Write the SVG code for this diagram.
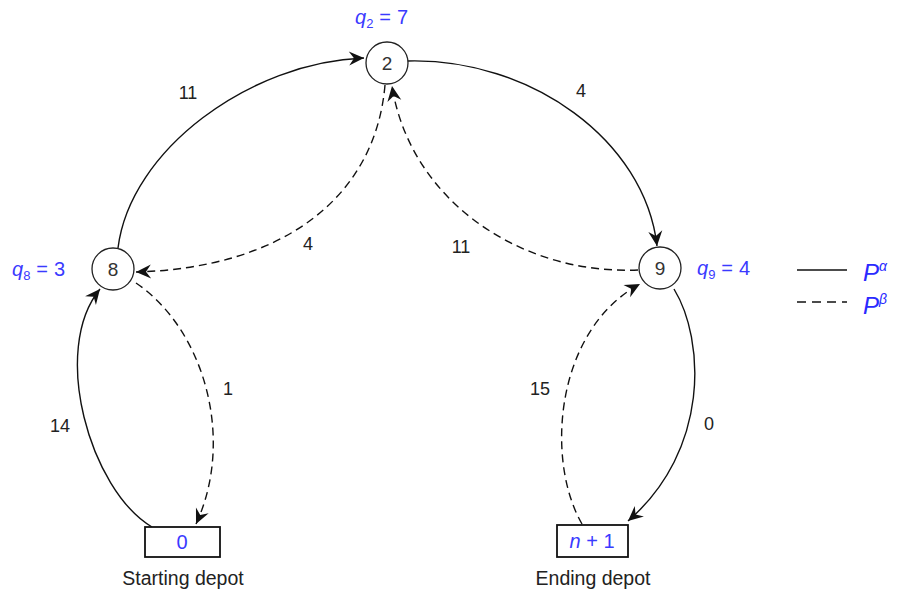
<svg xmlns="http://www.w3.org/2000/svg" width="900" height="596" viewBox="0 0 900 596">
<style>
.node{fill:#fff;stroke:#222;stroke-width:1.3}
.box{fill:#fff;stroke:#111;stroke-width:1.8}
.solid{fill:none;stroke:#111;stroke-width:1.4}
.dash{fill:none;stroke:#111;stroke-width:1.4;stroke-dasharray:8,5}
.nl{font-family:"Liberation Sans",Arial,sans-serif;font-size:19px;fill:#333;text-anchor:middle}
.el{font-family:"Liberation Sans",Arial,sans-serif;font-size:18px;fill:#222;text-anchor:middle}
.q{font-family:"Liberation Sans",Arial,sans-serif;font-size:20px;fill:#3a3aff}
.cap{font-family:"Liberation Sans",Arial,sans-serif;font-size:19.5px;fill:#222;text-anchor:middle}
.leg{font-family:"Liberation Sans",Arial,sans-serif;font-size:24px;fill:#2a2aff;font-style:italic}
</style>
<defs>
<marker id="arr" viewBox="-17 -8 18 16" refX="0" refY="0" markerWidth="18" markerHeight="16" markerUnits="userSpaceOnUse" orient="auto">
<path d="M0,0 L-15,-7 L-10,0 L-15,7 Z" fill="#111"/>
</marker>
</defs>
<g id="connectors">
<path class="solid" d="M118,248 C130,150 250,62 364,58" marker-end="url(#arr)"/>
<path class="dash" d="M385,85 C375,200 280,268 136,272" marker-end="url(#arr)"/>
<path class="solid" d="M408,61 C530,58 645,140 657,246" marker-end="url(#arr)"/>
<path class="dash" d="M638,270 C520,275 410,200 392,86" marker-end="url(#arr)"/>
<path class="solid" d="M152,527 C90,490 50,350 100,289" marker-end="url(#arr)"/>
<path class="dash" d="M136,283 C205,330 235,440 196,524" marker-end="url(#arr)"/>
<path class="dash" d="M582,524 C545,460 555,330 640,284" marker-end="url(#arr)"/>
<path class="solid" d="M674,289 C705,340 710,450 628,521" marker-end="url(#arr)"/>
<text class="el" x="188" y="99">11</text>
<text class="el" x="308" y="250">4</text>
<text class="el" x="581" y="97">4</text>
<text class="el" x="461" y="253">11</text>
<text class="el" x="60" y="432">14</text>
<text class="el" x="228" y="395">1</text>
<text class="el" x="540" y="395">15</text>
<text class="el" x="709" y="430">0</text>
</g>
<g id="node2">
<circle class="node" cx="387" cy="63" r="21"/>
<text class="nl" x="387" y="70">2</text>
<text class="q" x="355" y="24"><tspan font-style="italic">q</tspan><tspan font-size="13" dy="4">2</tspan><tspan dy="-4" dx="6">=</tspan><tspan dx="6">7</tspan></text>
</g>
<g id="node8">
<circle class="node" cx="113" cy="269" r="21"/>
<text class="nl" x="113" y="276">8</text>
<text class="q" x="12" y="276"><tspan font-style="italic">q</tspan><tspan font-size="13" dy="4">8</tspan><tspan dy="-4" dx="6">=</tspan><tspan dx="6">3</tspan></text>
</g>
<g id="node9">
<circle class="node" cx="660" cy="268" r="21"/>
<text class="nl" x="660" y="275">9</text>
<text class="q" x="697" y="275"><tspan font-style="italic">q</tspan><tspan font-size="13" dy="4">9</tspan><tspan dy="-4" dx="6">=</tspan><tspan dx="6">4</tspan></text>
</g>
<g id="node0">
<rect class="box" x="145" y="527" width="75" height="30"/>
<text class="q" x="182" y="549" text-anchor="middle">0</text>
<text class="cap" x="183" y="585">Starting depot</text>
</g>
<g id="noden1">
<rect class="box" x="557" y="525" width="71" height="32"/>
<text class="q" x="592" y="548" text-anchor="middle"><tspan font-style="italic">n</tspan> + 1</text>
<text class="cap" x="593" y="585">Ending depot</text>
</g>
<g id="legend">
<line x1="797" y1="270" x2="847" y2="270" stroke="#111" stroke-width="1.6"/>
<line x1="797" y1="302" x2="847" y2="302" stroke="#111" stroke-width="1.6" stroke-dasharray="9,6"/>
<text class="leg" x="863" y="281">P<tspan font-size="14" dy="-10">α</tspan></text>
<text class="leg" x="863" y="314">P<tspan font-size="14" dy="-10">β</tspan></text>
</g>
</svg>
